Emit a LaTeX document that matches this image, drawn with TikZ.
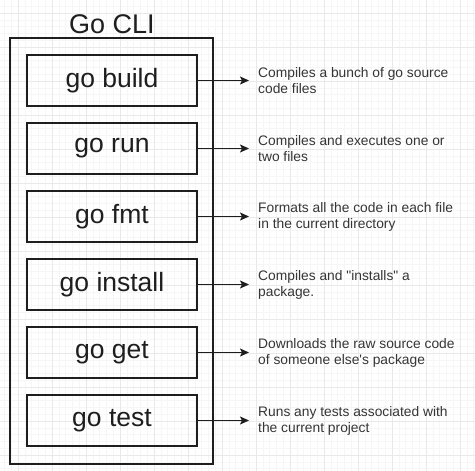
\documentclass[tikz,border=0pt]{standalone}
\usepackage{fontspec}
\setmainfont{Liberation Sans}[Ligatures=TeXOff]
\usetikzlibrary{arrows.meta}
\definecolor{gridmajor}{HTML}{E9E9E9}
\definecolor{gridminor}{HTML}{F6F6F6}
\definecolor{ink}{HTML}{1E1E1E}
\tikzset{
  cmdbox/.style={draw=ink, line width=1.4pt, minimum width=170pt, minimum height=51pt, inner sep=0pt, font=\fontsize{26.5}{30}\selectfont, text=ink},
  outerbox/.style={draw=ink, line width=1.4pt},
  desc/.style={anchor=west, align=left, inner sep=0pt, font=\fontsize{13.8}{16}\selectfont, text=ink!90},
  conn/.style={draw=ink, line width=1.4pt, -{Stealth[length=9pt,width=8pt,inset=2pt]}},
}
\begin{document}
\begin{tikzpicture}[x=1pt,y=1pt]
\useasboundingbox (0,0) rectangle (475,-471);
\fill[white] (0,0) rectangle (475,-471);
% grid
\foreach \i in {0,...,70} {
  \draw[gridminor, line width=0.5pt] ({4.4+6.8*\i},0) -- ({4.4+6.8*\i},-471);
  \draw[gridminor, line width=0.5pt] (0,{-(-0.6+6.8*\i)}) -- (475,{-(-0.6+6.8*\i)});
}
\foreach \i in {0,...,13} {
  \draw[gridmajor, line width=0.7pt] ({18+34*\i},0) -- ({18+34*\i},-471);
  \draw[gridmajor, line width=0.7pt] (0,{-(13+34*\i)}) -- (475,{-(13+34*\i)});
}
% outer box
\node[outerbox, minimum width=203pt, minimum height=426pt, inner sep=0pt] (cli) at (111.5,-251) {};
\node[font=\fontsize{27}{30}\selectfont, text=ink] (title) at (112,-24) {Go CLI};
% command boxes
\node[cmdbox] (build) at (112,-80.5) {go build};
\node[cmdbox] (run) at (112,-148.5) {go run};
\node[cmdbox] (fmt) at (112,-216.5) {go fmt};
\node[cmdbox] (install) at (112,-284.5) {go install};
\node[cmdbox] (get) at (112,-352.5) {go get};
\node[cmdbox] (test) at (112,-420.5) {go test};
% descriptions
\node[desc] (dbuild) at (258,-80.5) {Compiles a bunch of go source\\code files};
\node[desc] (drun) at (258,-148.5) {Compiles and executes one or\\two files};
\node[desc] (dfmt) at (258,-216.5) {Formats all the code in each file\\in the current directory};
\node[desc] (dinstall) at (258,-284.5) {Compiles and "installs" a\\package.};
\node[desc] (dget) at (258,-352.5) {Downloads the raw source code\\of someone else's package};
\node[desc] (dtest) at (258,-420.5) {Runs any tests associated with\\the current project};
% connectors
\foreach \a in {build,run,fmt,install,get,test} {
  \draw[conn] (\a.east) -- ([xshift=-9pt]d\a.west);
}
\end{tikzpicture}
\end{document}
